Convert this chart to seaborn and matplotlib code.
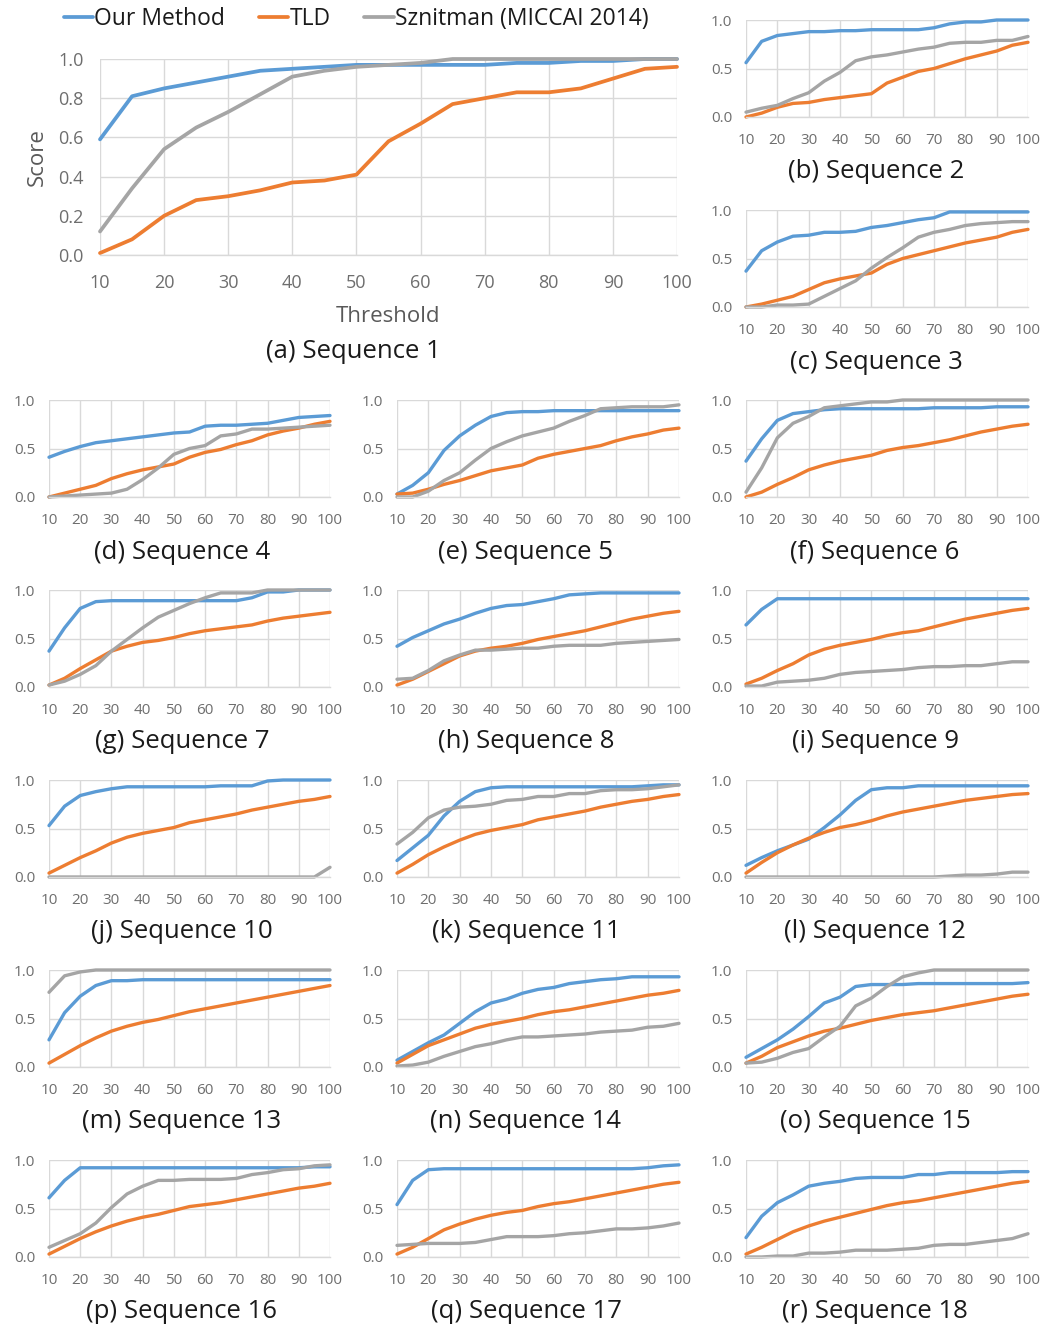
import matplotlib
matplotlib.use("Agg")
import matplotlib.pyplot as plt
import seaborn as sns
import pandas as pd
from matplotlib.lines import Line2D

thresholds = list(range(10, 101, 5))
methods = ["Our Method", "TLD", "Sznitman (MICCAI 2014)"]
colors = ["#5B9BD5", "#ED7D31", "#A5A5A5"]

seq1_our = [0.59, 0.81, 0.85, 0.88, 0.91, 0.94, 0.95, 0.96, 0.97, 0.97, 0.97, 0.97, 0.97, 0.98, 0.98, 0.99, 0.99, 1.0, 1.0]
seq1_tld = [0.01, 0.08, 0.20, 0.28, 0.30, 0.33, 0.37, 0.38, 0.41, 0.58, 0.67, 0.77, 0.80, 0.83, 0.83, 0.85, 0.90, 0.95, 0.96]
seq1_sz = [0.12, 0.34, 0.54, 0.65, 0.73, 0.82, 0.91, 0.94, 0.96, 0.97, 0.98, 1.0, 1.0, 1.0, 1.0, 1.0, 1.0, 1.0, 1.0]

seq2_our = [0.56, 0.78, 0.84, 0.86, 0.88, 0.88, 0.89, 0.89, 0.90, 0.90, 0.90, 0.90, 0.92, 0.96, 0.98, 0.98, 1.0, 1.0, 1.0]
seq2_tld = [0.0, 0.04, 0.10, 0.14, 0.15, 0.18, 0.20, 0.22, 0.24, 0.35, 0.41, 0.47, 0.50, 0.55, 0.60, 0.64, 0.68, 0.74, 0.77]
seq2_sz = [0.05, 0.09, 0.12, 0.19, 0.25, 0.37, 0.46, 0.58, 0.62, 0.64, 0.67, 0.70, 0.72, 0.76, 0.77, 0.77, 0.79, 0.79, 0.83]

seq3_our = [0.37, 0.58, 0.67, 0.73, 0.74, 0.77, 0.77, 0.78, 0.82, 0.84, 0.87, 0.90, 0.92, 0.98, 0.98, 0.98, 0.98, 0.98, 0.98]
seq3_tld = [0.0, 0.03, 0.07, 0.11, 0.18, 0.25, 0.29, 0.32, 0.35, 0.44, 0.50, 0.54, 0.58, 0.62, 0.66, 0.69, 0.72, 0.77, 0.80]
seq3_sz = [0.0, 0.0, 0.02, 0.02, 0.03, 0.11, 0.19, 0.27, 0.40, 0.51, 0.61, 0.72, 0.77, 0.80, 0.84, 0.86, 0.87, 0.88, 0.88]

seq4_our = [0.41, 0.47, 0.52, 0.56, 0.58, 0.60, 0.62, 0.64, 0.66, 0.67, 0.73, 0.74, 0.74, 0.75, 0.76, 0.79, 0.82, 0.83, 0.84]
seq4_tld = [0.0, 0.04, 0.08, 0.12, 0.19, 0.24, 0.28, 0.31, 0.34, 0.41, 0.46, 0.49, 0.54, 0.58, 0.64, 0.68, 0.71, 0.75, 0.78]
seq4_sz = [0.0, 0.01, 0.02, 0.03, 0.04, 0.08, 0.18, 0.30, 0.44, 0.50, 0.53, 0.63, 0.65, 0.70, 0.70, 0.71, 0.72, 0.73, 0.74]

seq5_our = [0.03, 0.12, 0.25, 0.48, 0.63, 0.74, 0.83, 0.87, 0.88, 0.88, 0.89, 0.89, 0.89, 0.89, 0.89, 0.89, 0.89, 0.89, 0.89]
seq5_tld = [0.03, 0.04, 0.08, 0.13, 0.17, 0.22, 0.27, 0.30, 0.33, 0.40, 0.44, 0.47, 0.50, 0.53, 0.58, 0.62, 0.65, 0.69, 0.71]
seq5_sz = [0.0, 0.0, 0.06, 0.17, 0.25, 0.38, 0.50, 0.57, 0.63, 0.67, 0.71, 0.78, 0.84, 0.91, 0.92, 0.93, 0.93, 0.93, 0.95]

seq6_our = [0.37, 0.60, 0.79, 0.86, 0.88, 0.90, 0.91, 0.91, 0.91, 0.91, 0.91, 0.91, 0.92, 0.92, 0.92, 0.92, 0.93, 0.93, 0.93]
seq6_tld = [0.0, 0.05, 0.13, 0.20, 0.28, 0.33, 0.37, 0.40, 0.43, 0.48, 0.51, 0.53, 0.56, 0.59, 0.63, 0.67, 0.70, 0.73, 0.75]
seq6_sz = [0.05, 0.30, 0.61, 0.76, 0.83, 0.92, 0.94, 0.96, 0.98, 0.98, 1.0, 1.0, 1.0, 1.0, 1.0, 1.0, 1.0, 1.0, 1.0]

seq7_our = [0.37, 0.61, 0.81, 0.88, 0.89, 0.89, 0.89, 0.89, 0.89, 0.89, 0.89, 0.89, 0.89, 0.92, 0.98, 0.98, 1.0, 1.0, 1.0]
seq7_tld = [0.02, 0.09, 0.19, 0.28, 0.37, 0.42, 0.46, 0.48, 0.51, 0.55, 0.58, 0.60, 0.62, 0.64, 0.68, 0.71, 0.73, 0.75, 0.77]
seq7_sz = [0.02, 0.06, 0.13, 0.22, 0.37, 0.49, 0.61, 0.72, 0.79, 0.86, 0.92, 0.97, 0.97, 0.97, 1.0, 1.0, 1.0, 1.0, 1.0]

seq8_our = [0.42, 0.51, 0.58, 0.65, 0.70, 0.76, 0.81, 0.84, 0.85, 0.88, 0.91, 0.95, 0.96, 0.97, 0.97, 0.97, 0.97, 0.97, 0.97]
seq8_tld = [0.02, 0.08, 0.16, 0.24, 0.32, 0.37, 0.40, 0.42, 0.45, 0.49, 0.52, 0.55, 0.58, 0.62, 0.66, 0.70, 0.73, 0.76, 0.78]
seq8_sz = [0.08, 0.09, 0.17, 0.27, 0.33, 0.38, 0.38, 0.39, 0.40, 0.40, 0.42, 0.43, 0.43, 0.43, 0.45, 0.46, 0.47, 0.48, 0.49]

seq9_our = [0.64, 0.80, 0.91, 0.91, 0.91, 0.91, 0.91, 0.91, 0.91, 0.91, 0.91, 0.91, 0.91, 0.91, 0.91, 0.91, 0.91, 0.91, 0.91]
seq9_tld = [0.03, 0.09, 0.17, 0.24, 0.33, 0.39, 0.43, 0.46, 0.49, 0.53, 0.56, 0.58, 0.62, 0.66, 0.70, 0.73, 0.76, 0.79, 0.81]
seq9_sz = [0.01, 0.01, 0.05, 0.06, 0.07, 0.09, 0.13, 0.15, 0.16, 0.17, 0.18, 0.20, 0.21, 0.21, 0.22, 0.22, 0.24, 0.26, 0.26]

seq10_our = [0.53, 0.73, 0.84, 0.88, 0.91, 0.93, 0.93, 0.93, 0.93, 0.93, 0.93, 0.94, 0.94, 0.94, 0.99, 1.0, 1.0, 1.0, 1.0]
seq10_tld = [0.04, 0.12, 0.20, 0.27, 0.35, 0.41, 0.45, 0.48, 0.51, 0.56, 0.59, 0.62, 0.65, 0.69, 0.72, 0.75, 0.78, 0.80, 0.83]
seq10_sz = [0.0, 0.0, 0.0, 0.0, 0.0, 0.0, 0.0, 0.0, 0.0, 0.0, 0.0, 0.0, 0.0, 0.0, 0.0, 0.0, 0.0, 0.0, 0.10]

seq11_our = [0.17, 0.30, 0.43, 0.63, 0.78, 0.88, 0.92, 0.93, 0.93, 0.93, 0.93, 0.93, 0.93, 0.93, 0.93, 0.93, 0.94, 0.95, 0.95]
seq11_tld = [0.04, 0.13, 0.23, 0.31, 0.38, 0.44, 0.48, 0.51, 0.54, 0.59, 0.62, 0.65, 0.68, 0.72, 0.75, 0.78, 0.80, 0.83, 0.85]
seq11_sz = [0.34, 0.46, 0.61, 0.69, 0.72, 0.73, 0.75, 0.79, 0.80, 0.83, 0.83, 0.86, 0.86, 0.89, 0.90, 0.90, 0.91, 0.93, 0.95]

seq12_our = [0.12, 0.20, 0.27, 0.33, 0.39, 0.51, 0.64, 0.79, 0.90, 0.92, 0.92, 0.94, 0.94, 0.94, 0.94, 0.94, 0.94, 0.94, 0.94]
seq12_tld = [0.04, 0.15, 0.25, 0.33, 0.40, 0.46, 0.51, 0.54, 0.58, 0.63, 0.67, 0.70, 0.73, 0.76, 0.79, 0.81, 0.83, 0.85, 0.86]
seq12_sz = [0.0, 0.0, 0.0, 0.0, 0.0, 0.0, 0.0, 0.0, 0.0, 0.0, 0.0, 0.0, 0.0, 0.01, 0.02, 0.02, 0.03, 0.05, 0.05]

seq13_our = [0.28, 0.56, 0.73, 0.84, 0.89, 0.89, 0.90, 0.90, 0.90, 0.90, 0.90, 0.90, 0.90, 0.90, 0.90, 0.90, 0.90, 0.90, 0.90]
seq13_tld = [0.04, 0.13, 0.22, 0.30, 0.37, 0.42, 0.46, 0.49, 0.53, 0.57, 0.60, 0.63, 0.66, 0.69, 0.72, 0.75, 0.78, 0.81, 0.84]
seq13_sz = [0.77, 0.94, 0.98, 1.0, 1.0, 1.0, 1.0, 1.0, 1.0, 1.0, 1.0, 1.0, 1.0, 1.0, 1.0, 1.0, 1.0, 1.0, 1.0]

seq14_our = [0.07, 0.16, 0.25, 0.33, 0.45, 0.57, 0.66, 0.70, 0.76, 0.80, 0.82, 0.86, 0.88, 0.90, 0.91, 0.93, 0.93, 0.93, 0.93]
seq14_tld = [0.04, 0.13, 0.22, 0.28, 0.34, 0.40, 0.44, 0.47, 0.50, 0.54, 0.57, 0.59, 0.62, 0.65, 0.68, 0.71, 0.74, 0.76, 0.79]
seq14_sz = [0.01, 0.02, 0.05, 0.11, 0.16, 0.21, 0.24, 0.28, 0.31, 0.31, 0.32, 0.33, 0.34, 0.36, 0.37, 0.38, 0.41, 0.42, 0.45]

seq15_our = [0.10, 0.19, 0.28, 0.39, 0.52, 0.66, 0.72, 0.83, 0.85, 0.85, 0.85, 0.86, 0.86, 0.86, 0.86, 0.86, 0.86, 0.86, 0.87]
seq15_tld = [0.04, 0.11, 0.20, 0.26, 0.32, 0.37, 0.40, 0.44, 0.48, 0.51, 0.54, 0.56, 0.58, 0.61, 0.64, 0.67, 0.70, 0.73, 0.75]
seq15_sz = [0.04, 0.05, 0.09, 0.15, 0.19, 0.31, 0.42, 0.63, 0.71, 0.83, 0.93, 0.97, 1.0, 1.0, 1.0, 1.0, 1.0, 1.0, 1.0]

seq16_our = [0.61, 0.79, 0.92, 0.92, 0.92, 0.92, 0.92, 0.92, 0.92, 0.92, 0.92, 0.92, 0.92, 0.92, 0.92, 0.92, 0.92, 0.93, 0.93]
seq16_tld = [0.03, 0.11, 0.19, 0.26, 0.32, 0.37, 0.41, 0.44, 0.48, 0.52, 0.54, 0.56, 0.59, 0.62, 0.65, 0.68, 0.71, 0.73, 0.76]
seq16_sz = [0.10, 0.17, 0.24, 0.35, 0.51, 0.65, 0.73, 0.79, 0.79, 0.80, 0.80, 0.80, 0.81, 0.85, 0.87, 0.90, 0.91, 0.94, 0.95]

seq17_our = [0.54, 0.79, 0.90, 0.91, 0.91, 0.91, 0.91, 0.91, 0.91, 0.91, 0.91, 0.91, 0.91, 0.91, 0.91, 0.91, 0.92, 0.94, 0.95]
seq17_tld = [0.03, 0.10, 0.19, 0.28, 0.34, 0.39, 0.43, 0.46, 0.48, 0.52, 0.55, 0.57, 0.60, 0.63, 0.66, 0.69, 0.72, 0.75, 0.77]
seq17_sz = [0.12, 0.13, 0.14, 0.14, 0.14, 0.15, 0.18, 0.21, 0.21, 0.21, 0.22, 0.24, 0.25, 0.27, 0.29, 0.29, 0.30, 0.32, 0.35]

seq18_our = [0.20, 0.42, 0.56, 0.64, 0.73, 0.76, 0.78, 0.81, 0.82, 0.82, 0.82, 0.85, 0.85, 0.87, 0.87, 0.87, 0.87, 0.88, 0.88]
seq18_tld = [0.03, 0.10, 0.18, 0.26, 0.32, 0.37, 0.41, 0.45, 0.49, 0.53, 0.56, 0.58, 0.61, 0.64, 0.67, 0.70, 0.73, 0.76, 0.78]
seq18_sz = [0.0, 0.0, 0.01, 0.01, 0.04, 0.04, 0.05, 0.07, 0.07, 0.07, 0.08, 0.09, 0.12, 0.13, 0.13, 0.15, 0.17, 0.19, 0.24]

captions = ["(a) Sequence 1", "(b) Sequence 2", "(c) Sequence 3", "(d) Sequence 4",
            "(e) Sequence 5", "(f) Sequence 6", "(g) Sequence 7", "(h) Sequence 8",
            "(i) Sequence 9", "(j) Sequence 10", "(k) Sequence 11", "(l) Sequence 12",
            "(m) Sequence 13", "(n) Sequence 14", "(o) Sequence 15", "(p) Sequence 16",
            "(q) Sequence 17", "(r) Sequence 18"]

series = [
    (seq1_our, seq1_tld, seq1_sz), (seq2_our, seq2_tld, seq2_sz), (seq3_our, seq3_tld, seq3_sz),
    (seq4_our, seq4_tld, seq4_sz), (seq5_our, seq5_tld, seq5_sz), (seq6_our, seq6_tld, seq6_sz),
    (seq7_our, seq7_tld, seq7_sz), (seq8_our, seq8_tld, seq8_sz), (seq9_our, seq9_tld, seq9_sz),
    (seq10_our, seq10_tld, seq10_sz), (seq11_our, seq11_tld, seq11_sz), (seq12_our, seq12_tld, seq12_sz),
    (seq13_our, seq13_tld, seq13_sz), (seq14_our, seq14_tld, seq14_sz), (seq15_our, seq15_tld, seq15_sz),
    (seq16_our, seq16_tld, seq16_sz), (seq17_our, seq17_tld, seq17_sz), (seq18_our, seq18_tld, seq18_sz),
]

sns.set_theme(style="white")
plt.rcParams["font.family"] = ["Open Sans", "DejaVu Sans"]

W, H = 1044, 1328
fig = plt.figure(figsize=(W / 100, H / 100), dpi=100)
fig.patch.set_facecolor("white")

GRID = "#D9D9D9"
TICK = "#6E6E6E"


def add_ax(left, top, right, bottom):
    return fig.add_axes([left / W, 1 - bottom / H, (right - left) / W, (bottom - top) / H])


def draw(ax, our, tld, sz, big=False):
    df = pd.DataFrame({
        "Threshold": thresholds * 3,
        "Score": list(our) + list(tld) + list(sz),
        "Method": [m for m in methods for _ in thresholds],
    })
    sns.lineplot(data=df, x="Threshold", y="Score", hue="Method", hue_order=methods,
                 palette=colors, linewidth=2.7 if big else 2.4, ax=ax, clip_on=False,
                 legend=False)
    ax.set_xlim(10, 100)
    ax.set_ylim(0, 1)
    ax.set_xticks(range(10, 101, 10))
    if big:
        ax.set_yticks([0, 0.2, 0.4, 0.6, 0.8, 1.0])
    else:
        ax.set_yticks([0, 0.5, 1.0])
    ax.set_yticklabels([f"{v:.1f}" for v in ax.get_yticks()])
    ax.grid(True, color=GRID, linewidth=1.0)
    ax.set_axisbelow(True)
    for s in ["top", "right", "left"]:
        ax.spines[s].set_visible(False)
    ax.spines["bottom"].set_color(GRID)
    ax.spines["bottom"].set_linewidth(1.0)
    fs = 13 if big else 11
    ax.tick_params(axis="both", length=0, labelsize=fs, labelcolor=TICK)
    ax.tick_params(axis="x", pad=14 if big else 11.5)
    ax.tick_params(axis="y", pad=12 if big else 10)
    ax.set_xlabel("")
    ax.set_ylabel("")


CAP_FS = 18.5

# Panel (a)
ax_a = add_ax(100, 59, 677, 255)
draw(ax_a, *series[0], big=True)
fig.text(37 / W, 1 - 157 / H, "Score", rotation=90, ha="center", va="center",
         fontsize=16, color="#595959")
fig.text(388 / W, 1 - 317 / H, "Threshold", ha="center", va="center",
         fontsize=16, color="#595959")
fig.text(353 / W, 1 - 351 / H, captions[0], ha="center", va="center",
         fontsize=CAP_FS, color="#1a1a1a")

handles = [Line2D([], [], color=c, linewidth=2.7) for c in colors]
fig.legend(handles, methods, loc="center", bbox_to_anchor=(356 / W, 1 - 19 / H),
           ncol=3, frameon=False, fontsize=16.5, handlelength=1.3, handletextpad=0.05,
           columnspacing=1.45, labelcolor="#1a1a1a")

# Small panels
col_x = [(49, 330), (397, 679), (746, 1028)]
cap_x = [182, 526, 875]

# (b), (c)
for i, top in zip([1, 2], [20, 210]):
    ax = add_ax(746, top, 1028, top + 97)
    draw(ax, *series[i])
    fig.text(876 / W, 1 - (top + 152) / H, captions[i], ha="center", va="center",
             fontsize=CAP_FS, color="#1a1a1a")

idx = 3
for r in range(5):
    top = 400 + 190 * r
    for c in range(3):
        l, rr = col_x[c]
        ax = add_ax(l, top, rr, top + 97)
        draw(ax, *series[idx])
        fig.text(cap_x[c] / W, 1 - (top + 152) / H, captions[idx], ha="center",
                 va="center", fontsize=CAP_FS, color="#1a1a1a")
        idx += 1

fig.savefig("out.png", dpi=100, facecolor="white")
